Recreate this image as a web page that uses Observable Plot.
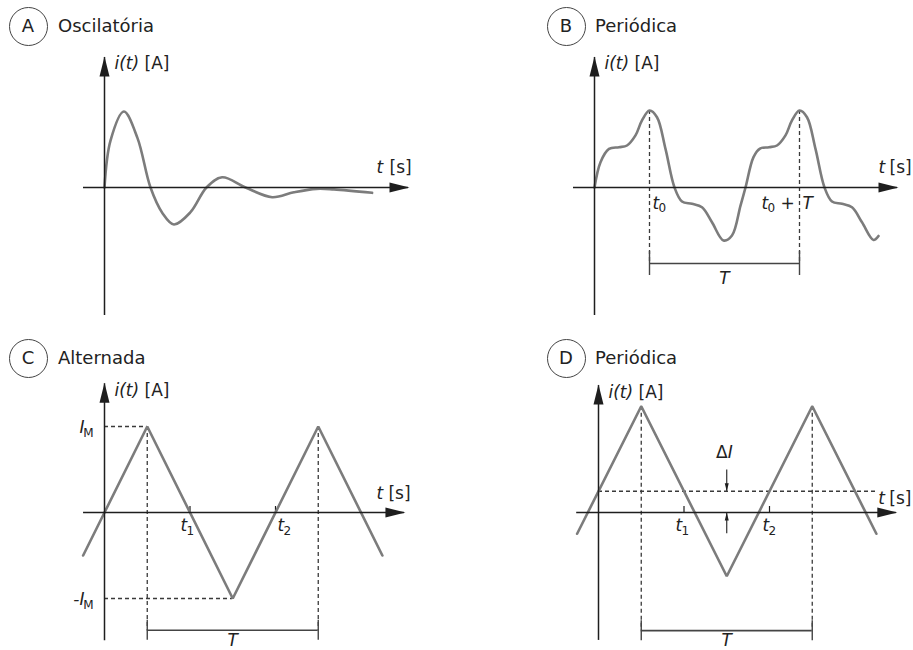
<!DOCTYPE html>
<html><head><meta charset="utf-8">
<script src="https://cdn.jsdelivr.net/npm/d3@7"></script>
<script src="https://cdn.jsdelivr.net/npm/@observablehq/plot@0.6"></script>
<style>
body{margin:0;background:#fff;}
#root{position:relative;width:913px;height:650px;font-family:"DejaVu Sans",sans-serif;color:#222;overflow:hidden;}
.panel{position:absolute;height:325px;}
.badge{position:absolute;width:39px;height:39px;border:1.3px solid #444;border-radius:50%;box-sizing:border-box;display:flex;align-items:center;justify-content:center;font-size:18px;line-height:18px;}
.title{position:absolute;font-size:18px;line-height:18px;white-space:nowrap;}
.panel svg{position:absolute;left:0;top:45px;}
</style></head><body><div id="root"></div>
<script>
// ---------- data ----------
const panelLetters = ["A", "B", "C", "D"];
const panelTitles = ["Oscilatória", "Periódica", "Alternada", "Periódica"];
const yAxisName = "i(t)", yAxisUnit = "[A]";
const xAxisName = "t", xAxisUnit = "[s]";

// A: damped oscillation
const tA = [0, 0.3, 0.97, 1.65, 2.3, 2.9, 3.47, 4.3, 5.1, 5.88, 7.05, 8.38, 9.47, 10.6, 11.47, 13.38];
const iA = [0, 2.47, 4.0, 2.6, 0, -1.35, -1.95, -1.3, 0, 0.54, 0, -0.51, -0.25, -0.07, -0.1, -0.28];

// B: periodic waveform
const tB = [0, 0.12, 0.29, 0.49, 0.65, 0.82, 0.95, 1.1, 1.25, 1.42, 1.6, 1.75, 1.95, 2.15, 2.35, 2.58, 2.75, 2.92, 3.02,
            3.18, 3.31, 3.49, 3.65, 3.82, 3.95, 4.1, 4.25, 4.42, 4.6, 4.75, 4.95, 5.15, 5.35, 5.58, 5.68];
const iB = [0, 1.33, 2.03, 2.12, 2.21, 2.74, 3.53, 4.05, 3.7, 2.03, 0, -0.74, -0.86, -1.04, -1.83, -2.79, -2.53, -0.95, 0,
            1.6, 2.05, 2.12, 2.21, 2.74, 3.53, 4.05, 3.7, 2.03, 0, -0.74, -0.86, -1.04, -1.83, -2.76, -2.55];
const B_t0 = 1.1, B_T = 3, B_peak = 4.05, B_bracket = -4.0;

// C: alternating triangle wave
const tC = [-0.5, 0, 1, 3, 5, 6.5];
const iC = [-1, 0, 2, -2, 2, -1];
const C_IM = 2, C_tPeak = 1, C_tTrough = 3, C_T = 4, C_t1 = 2, C_t2 = 4, C_bracket = -2.74;

// D: periodic triangle wave with offset
const tD = [-0.5, 1, 3, 5, 6.5];
const iD = [-0.5, 2.5, -1.5, 2.5, -0.5];
const D_mean = 0.5, D_peak = 2.5, D_tPeak = 1, D_T = 4, D_t1 = 2, D_t2 = 4, D_meanEnd = 6.5, D_bracket = -2.78;
const D_arrowTop = 1.0, D_arrowBottom = -0.5;

// ---------- layout ----------
const layout = [
  {left: 0,   top: 0,   width: 456, ox: 104, oy: 142, ux: 20,    uy: 19,   xAxis: [-1.05, 15.25], yAxis: [-6.74, 6.9],  cx: 28,  cy: 26, tx: 58,  tb: 32, yl: [10, 12], xl: [-33, -20, -15]},
  {left: 456, top: 0,   width: 457, ox: 138, oy: 142, ux: 50,    uy: 19,   xAxis: [-0.42, 6.08],  yAxis: [-6.74, 6.9],  cx: 110, cy: 26, tx: 139, tb: 32, yl: [10, 12], xl: [-20, -9, -15]},
  {left: 0,   top: 325, width: 456, ox: 104, oy: 142, ux: 42.75, uy: 43,   xAxis: [-0.49, 7.04],  yAxis: [-2.98, 3.02], cx: 28,  cy: 33, tx: 58,  tb: 39, yl: [10, 12], xl: [-29, -17, -14]},
  {left: 456, top: 325, width: 457, ox: 142, oy: 142, ux: 42.75, uy: 42.5, xAxis: [-0.51, 6.99],  yAxis: [-3.01, 3.01], cx: 110, cy: 33, tx: 139, tb: 39, yl: [10, 12], xl: [-19, -8, -9]}
];
const H = 280;
const AX = "#1e1e1e", CURVE = "#7c7c7c", DASH = "#3a3a3a", BR = "#444";
const FS = 17, SUB = 12;

const head = {draw(ctx, size) {
  const r = Math.sqrt(size / Math.PI);
  ctx.moveTo(0, 0); ctx.lineTo(-r / 2, 2 * r); ctx.lineTo(r / 2, 2 * r); ctx.closePath();
}};

function txt(s, o) {
  return Plot.text([s], {text: d => d, fontSize: FS, fill: "#222", stroke: "none", lineAnchor: "bottom", textAnchor: "start", ...o});
}

function makePanel(k, marks) {
  const c = layout[k];
  const W = c.width;
  const plot = Plot.plot({
    width: W, height: H, margin: 0,
    x: {domain: [-c.ox / c.ux, (W - c.ox) / c.ux], range: [0, W], axis: null},
    y: {domain: [(c.oy - H) / c.uy, c.oy / c.uy], range: [H, 0], axis: null},
    style: {fontFamily: "'DejaVu Sans', sans-serif", fontSize: FS + "px", color: "#222", background: "none", overflow: "visible"},
    marks: [
      ...marks,
      Plot.ruleY([0], {x1: c.xAxis[0], x2: c.xAxis[1] - 1 / c.ux, stroke: AX, strokeWidth: 1.5}),
      Plot.ruleX([0], {y1: c.yAxis[0], y2: c.yAxis[1] - 1 / c.uy, stroke: AX, strokeWidth: 1.5}),
      Plot.dot([0], {x: c.xAxis[1], y: 0, symbol: head, r: 10, rotate: 90, fill: AX, stroke: "none"}),
      Plot.dot([0], {x: 0, y: c.yAxis[1], symbol: head, r: 10, fill: AX, stroke: "none"}),
      txt(yAxisName, {x: 0, y: c.yAxis[1], dx: c.yl[0], dy: c.yl[1] + 1, fontStyle: "italic"}),
      txt(yAxisUnit, {x: 0, y: c.yAxis[1], dx: c.yl[0] + 30, dy: c.yl[1] + 1}),
      txt(xAxisName, {x: c.xAxis[1], y: 0, dx: c.xl[0], dy: c.xl[2], fontStyle: "italic"}),
      txt(xAxisUnit, {x: c.xAxis[1], y: 0, dx: c.xl[1], dy: c.xl[2]})
    ]
  });
  const div = document.createElement("div");
  div.className = "panel";
  div.style.left = c.left + "px"; div.style.top = c.top + "px"; div.style.width = W + "px";
  const badge = document.createElement("div");
  badge.className = "badge"; badge.textContent = panelLetters[k];
  badge.style.left = (c.cx - 19.5) + "px"; badge.style.top = (c.cy - 19.5) + "px";
  const title = document.createElement("div");
  title.className = "title"; title.textContent = panelTitles[k];
  title.style.left = c.tx + "px"; title.style.top = (c.tb - 15) + "px";
  div.append(badge, title, plot);
  document.getElementById("root").append(div);
}

const zip = (ts, is) => ts.map((t, j) => ({t, i: is[j]}));
const curve = (ts, is, cv) => Plot.line(zip(ts, is), {x: "t", y: "i", curve: cv, stroke: CURVE, strokeWidth: 2.6, strokeLinejoin: "miter"});
const dashed = {stroke: DASH, strokeWidth: 1.3, strokeDasharray: "4,3"};

// ----- A -----
makePanel(0, [curve(tA, iA, "catmull-rom")]);

// ----- B -----
{
  const c = layout[1];
  const tk = 12 / c.uy;
  const t1 = B_t0, t2 = B_t0 + B_T;
  makePanel(1, [
    Plot.ruleX([t1, t2], {y1: B_peak, y2: B_bracket, ...dashed}),
    Plot.ruleY([B_bracket], {x1: t1, x2: t2, stroke: BR, strokeWidth: 1.6}),
    Plot.ruleX([t1, t2], {y1: B_bracket - tk, y2: B_bracket + tk, stroke: BR, strokeWidth: 1.4}),
    curve(tB, iB, "catmull-rom"),
    txt("T", {x: (t1 + t2) / 2, y: B_bracket, dy: 20, textAnchor: "middle", fontStyle: "italic"}),
    txt("t", {x: t1, y: 0, dx: 3, dy: 21, fontStyle: "italic"}),
    txt("0", {x: t1, y: 0, dx: 9, dy: 24, fontSize: SUB}),
    txt("t", {x: t2, y: 0, dx: -38, dy: 21, fontStyle: "italic"}),
    txt("0", {x: t2, y: 0, dx: -32, dy: 24, fontSize: SUB}),
    txt("+", {x: t2, y: 0, dx: -19, dy: 21}),
    txt("T", {x: t2, y: 0, dx: 3, dy: 21, fontStyle: "italic"})
  ]);
}

// ----- C -----
{
  const c = layout[2];
  const tk = 10 / c.uy, tick = 6 / c.uy;
  const tp1 = C_tPeak, tp2 = C_tPeak + C_T;
  makePanel(2, [
    Plot.ruleY([C_IM], {x1: 0, x2: tp1, ...dashed}),
    Plot.ruleY([-C_IM], {x1: 0, x2: C_tTrough, ...dashed}),
    Plot.ruleX([tp1, tp2], {y1: C_IM, y2: C_bracket, ...dashed}),
    Plot.ruleY([C_bracket], {x1: tp1, x2: tp2, stroke: BR, strokeWidth: 1.6}),
    Plot.ruleX([tp1, tp2], {y1: C_bracket - tk, y2: C_bracket + tk, stroke: BR, strokeWidth: 1.4}),
    Plot.ruleX([C_t1, C_t2], {y1: 0, y2: tick, stroke: AX, strokeWidth: 1.2}),
    curve(tC, iC, "linear"),
    txt("T", {x: (tp1 + tp2) / 2, y: C_bracket, dy: 16, textAnchor: "middle", fontStyle: "italic"}),
    txt("I", {x: 0, y: C_IM, dx: -20, dy: 6, textAnchor: "end", fontStyle: "italic"}),
    txt("M", {x: 0, y: C_IM, dx: -11, dy: 10, textAnchor: "end", fontSize: SUB}),
    txt("-I", {x: 0, y: -C_IM, dx: -20, dy: 6, textAnchor: "end", fontStyle: "italic"}),
    txt("M", {x: 0, y: -C_IM, dx: -11, dy: 10, textAnchor: "end", fontSize: SUB}),
    txt("t", {x: C_t1, y: 0, dx: -9.5, dy: 18, fontStyle: "italic"}),
    txt("1", {x: C_t1, y: 0, dx: -3.5, dy: 22, fontSize: SUB}),
    txt("t", {x: C_t2, y: 0, dx: 2, dy: 18, fontStyle: "italic"}),
    txt("2", {x: C_t2, y: 0, dx: 8, dy: 22, fontSize: SUB})
  ]);
}

// ----- D -----
{
  const c = layout[3];
  const tk = 10 / c.uy, tick = 6 / c.uy;
  const tp1 = D_tPeak, tp2 = D_tPeak + D_T;
  const tm = (tp1 + tp2) / 2;
  makePanel(3, [
    Plot.ruleY([D_mean], {x1: 0, x2: D_meanEnd, ...dashed}),
    Plot.ruleX([tp1, tp2], {y1: D_peak, y2: D_bracket, ...dashed}),
    Plot.ruleY([D_bracket], {x1: tp1, x2: tp2, stroke: BR, strokeWidth: 1.6}),
    Plot.ruleX([tp1, tp2], {y1: D_bracket - tk, y2: D_bracket + tk, stroke: BR, strokeWidth: 1.4}),
    Plot.ruleX([D_t1, D_t2], {y1: 0, y2: tick, stroke: AX, strokeWidth: 1.2}),
    Plot.ruleX([tm], {y1: D_arrowTop, y2: D_mean, stroke: AX, strokeWidth: 1.1}),
    Plot.dot([0], {x: tm, y: D_mean, symbol: head, r: 4, rotate: 180, fill: AX, stroke: "none"}),
    Plot.ruleX([tm], {y1: D_arrowBottom, y2: 0, stroke: AX, strokeWidth: 1.1}),
    Plot.dot([0], {x: tm, y: 0, symbol: head, r: 4, fill: AX, stroke: "none"}),
    curve(tD, iD, "linear"),
    txt("T", {x: tm, y: D_bracket, dy: 15, textAnchor: "middle", fontStyle: "italic"}),
    txt("Δ", {x: tm, y: D_mean, dx: 1, dy: -33, textAnchor: "end"}),
    txt("I", {x: tm, y: D_mean, dx: 1, dy: -33, textAnchor: "start", fontStyle: "italic"}),
    txt("t", {x: D_t1, y: 0, dx: -8.5, dy: 18, fontStyle: "italic"}),
    txt("1", {x: D_t1, y: 0, dx: -2.5, dy: 22, fontSize: SUB}),
    txt("t", {x: D_t2, y: 0, dx: -7, dy: 18, fontStyle: "italic"}),
    txt("2", {x: D_t2, y: 0, dx: -1, dy: 22, fontSize: SUB})
  ]);
}
</script></body></html>
